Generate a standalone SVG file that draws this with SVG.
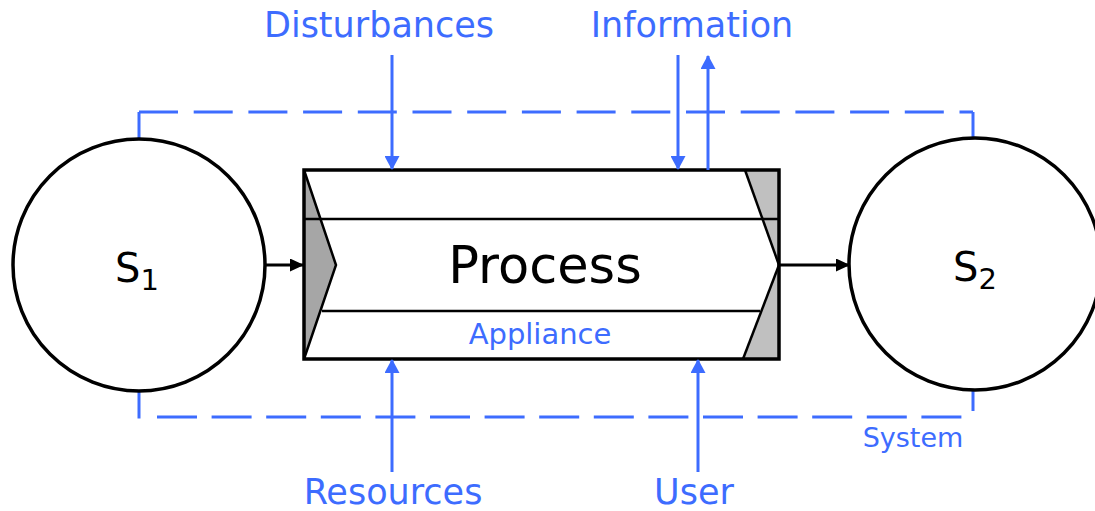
<svg xmlns="http://www.w3.org/2000/svg" width="1095" height="511" viewBox="0 0 1095 511">
  <style>
    .blue { fill: #3d6cff; font-family: "DejaVu Sans", Verdana, sans-serif; }
    .lbl { font-size: 35px; }
    .sys { stroke: #3d6cff; stroke-width: 3; fill: none; }
    .dash { stroke-dasharray: 39 15.7; }
    .dashb { stroke-dasharray: 40 14.6; }
    .flow-b { stroke: #3d6cff; stroke-width: 3; fill: none; }
    .flow-k { stroke: #000; stroke-width: 3; fill: none; }
    .state { fill: #fff; stroke: #000; stroke-width: 3.5; }
    .st { font-family: "DejaVu Sans", Verdana, sans-serif; fill: #000; }
    .edge { stroke: #000; stroke-width: 2.5; fill: none; }
  </style>
  <defs>
    <marker id="ah-blue" viewBox="0 0 14 15" refX="13" refY="7.5" markerWidth="14" markerHeight="15" markerUnits="userSpaceOnUse" orient="auto">
      <path d="M0,0 L14,7.5 L0,15 Z" fill="#3d6cff"/>
    </marker>
    <marker id="ah-black" viewBox="0 0 14 13" refX="13" refY="6.5" markerWidth="14" markerHeight="13" markerUnits="userSpaceOnUse" orient="auto">
      <path d="M0,0 L14,6.5 L0,13 Z" fill="#000"/>
    </marker>
  </defs>

  <!-- system boundary -->
  <g id="system">
    <line class="sys dash" x1="139" y1="112" x2="973" y2="112"/>
    <line class="sys" x1="139" y1="112" x2="139" y2="140"/>
    <line class="sys" x1="973" y1="112" x2="973" y2="138"/>
    <line class="sys dashb" x1="157" y1="417" x2="962" y2="417"/>
    <line class="sys" x1="139" y1="390" x2="139" y2="418.5"/>
    <line class="sys" x1="973" y1="388" x2="973" y2="411"/>
    <text class="blue" x="913" y="447" font-size="27" text-anchor="middle">System</text>
  </g>

  <!-- start state -->
  <g id="s1">
    <circle class="state" cx="139" cy="265" r="126"/>
    <text class="st" x="115" y="282" font-size="40">S<tspan font-size="29" dy="8">1</tspan></text>
  </g>

  <!-- end state -->
  <g id="s2">
    <circle class="state" cx="975" cy="264" r="126"/>
    <text class="st" x="953" y="281" font-size="40">S<tspan font-size="29" dy="8">2</tspan></text>
  </g>

  <!-- process block -->
  <g id="process">
    <rect x="304" y="170" width="475" height="189" fill="#fff"/>
    <polygon points="304,170 336,265 304,359" fill="#a6a6a6"/>
    <polygon points="745,170 779,170 779,265" fill="#c0c0c0"/>
    <polygon points="743,359 779,265 779,359" fill="#c0c0c0"/>
    <line class="edge" x1="304" y1="219" x2="779" y2="219"/>
    <line class="edge" x1="322" y1="311" x2="760" y2="311"/>
    <polyline class="edge" points="304,170 336,265 304,359"/>
    <line class="edge" x1="745" y1="170" x2="779" y2="265"/>
    <line class="edge" x1="743" y1="359" x2="779" y2="265"/>
    <rect x="304" y="170" width="475" height="189" fill="none" stroke="#000" stroke-width="3.5"/>
    <text class="st" x="545" y="283" font-size="51" text-anchor="middle">Process</text>
    <text class="blue" x="540" y="344" font-size="29" text-anchor="middle">Appliance</text>
  </g>

  <!-- labels of external influences -->
  <g id="disturbances"><text class="blue lbl" x="379" y="37" text-anchor="middle">Disturbances</text></g>
  <g id="information"><text class="blue lbl" x="692" y="37" text-anchor="middle" font-size="36">Information</text></g>
  <g id="resources"><text class="blue lbl" x="393" y="504" text-anchor="middle">Resources</text></g>
  <g id="user"><text class="blue lbl" x="694" y="504" text-anchor="middle">User</text></g>

  <!-- connectors -->
  <g id="connectors">
    <line class="flow-k" x1="266" y1="265" x2="303" y2="265" marker-end="url(#ah-black)"/>
    <line class="flow-k" x1="779" y1="265" x2="849" y2="265" marker-end="url(#ah-black)"/>
    <line class="flow-b" x1="392" y1="55" x2="392" y2="169" marker-end="url(#ah-blue)"/>
    <line class="flow-b" x1="678" y1="55" x2="678" y2="169" marker-end="url(#ah-blue)"/>
    <line class="flow-b" x1="708" y1="170" x2="708" y2="56" marker-end="url(#ah-blue)"/>
    <line class="flow-b" x1="392" y1="472" x2="392" y2="360" marker-end="url(#ah-blue)"/>
    <line class="flow-b" x1="698" y1="472" x2="698" y2="360" marker-end="url(#ah-blue)"/>
  </g>
</svg>
